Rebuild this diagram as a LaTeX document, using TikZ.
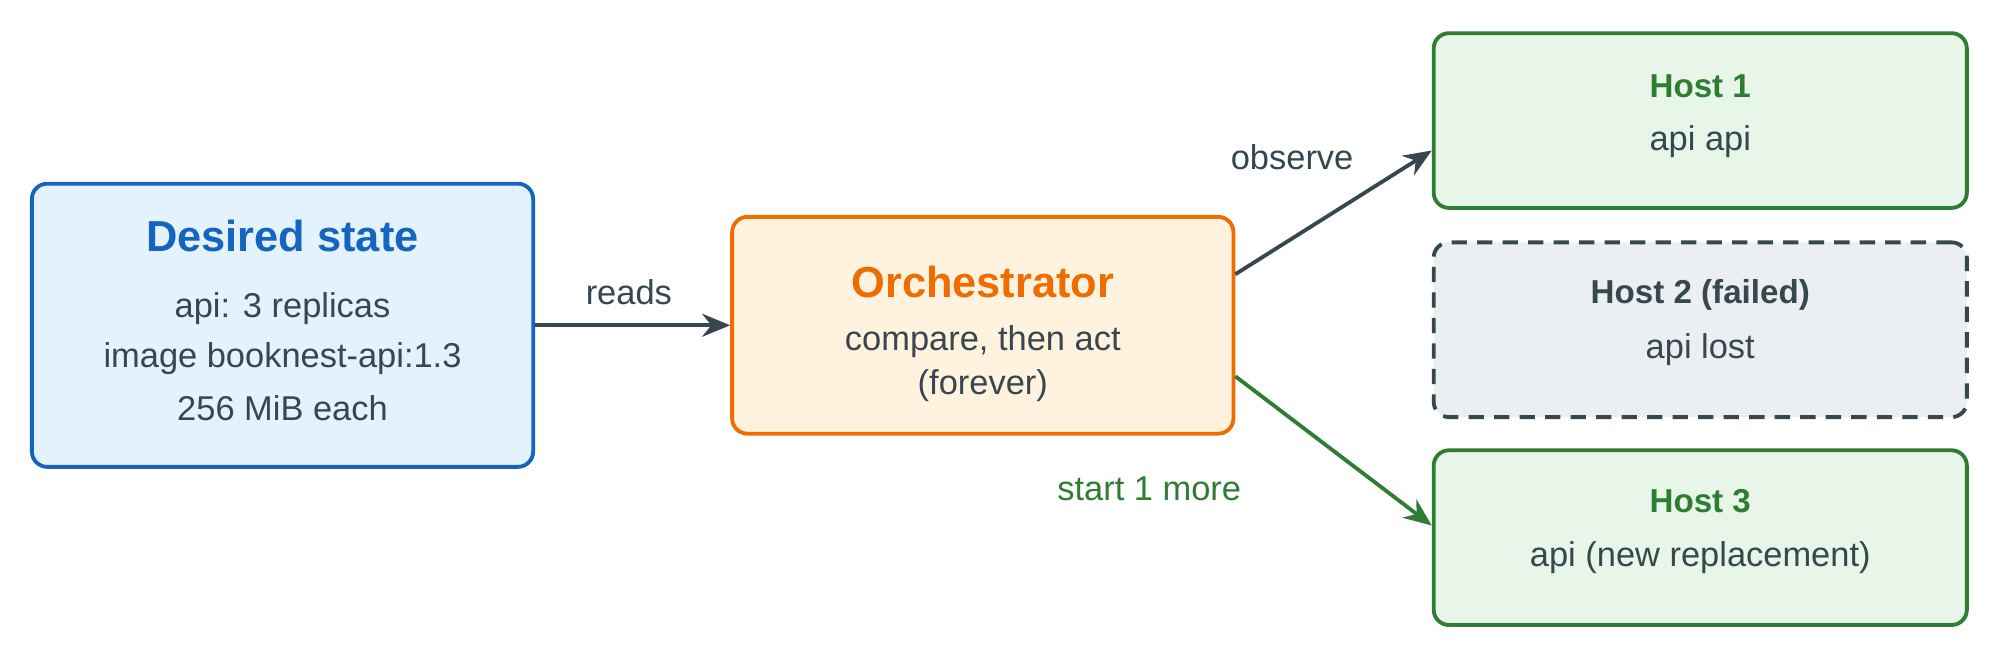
\documentclass[tikz,border=0pt]{standalone}
\usepackage{fontspec}
\setmainfont{Liberation Sans}
\usetikzlibrary{arrows.meta}
\definecolor{ink}{HTML}{37474F}
\definecolor{bluedk}{HTML}{1565C0}
\definecolor{bluelt}{HTML}{E3F2FD}
\definecolor{orgdk}{HTML}{EF6C00}
\definecolor{orglt}{HTML}{FFF3E0}
\definecolor{grndk}{HTML}{2E7D32}
\definecolor{grnlt}{HTML}{E8F5E9}
\definecolor{grylt}{HTML}{ECEFF1}
\begin{document}
\begin{tikzpicture}[x=1pt,y=-1pt]
\tikzstyle{box}=[rectangle,rounded corners=12pt,line width=3pt,inner sep=0pt]
\tikzstyle{desired}=[box,draw=bluedk,fill=bluelt,minimum width=393pt,minimum height=222pt]
\tikzstyle{orch}=[box,draw=orgdk,fill=orglt,minimum width=393pt,minimum height=170pt]
\tikzstyle{host}=[box,draw=grndk,fill=grnlt,minimum width=418pt,minimum height=137pt]
\tikzstyle{failed}=[box,draw=ink,fill=grylt,dash pattern=on 12pt off 8pt,minimum width=418pt,minimum height=137pt]
\tikzstyle{txt}=[text=ink,font=\fontsize{27}{31}\selectfont]
\tikzstyle{head}=[font=\bfseries\fontsize{34}{38}\selectfont]
\tikzstyle{hosthead}=[font=\bfseries\fontsize{26}{30}\selectfont]
\tikzstyle{flow}=[line width=3pt,-{Stealth[length=22pt,width=18pt]}]
\useasboundingbox (0,0) rectangle (1568,523);
\node[desired] (desired) at (221.5,255) {};
\node[orch] (orch) at (770.5,255) {};
\node[host] (host1) at (1333,94.5) {};
\node[failed] (host2) at (1333,258.5) {};
\node[host] (host3) at (1333,421.5) {};
% texts
\node[head,text=bluedk] (t1) at (221.5,185) {Desired state};
\node[txt] (d1) at (221.5,242) {api: 3 replicas};
\node[txt] (d2) at (221.5,281) {image booknest-api:1.3};
\node[txt] (d3) at (221.5,320) {256 MiB each};
\node[head,text=orgdk] (t2) at (770.5,221) {Orchestrator};
\node[txt] (o1) at (770.5,268) {compare, then act};
\node[txt] (o2) at (770.5,302) {(forever)};
\node[hosthead,text=grndk] (h1) at (1333,68) {Host 1};
\node[txt] (h1a) at (1333,111) {api api};
\node[hosthead,text=ink] (h2) at (1333,231) {Host 2 (failed)};
\node[txt] (h2a) at (1333,274) {api lost};
\node[hosthead,text=grndk] (h3) at (1333,393) {Host 3};
\node[txt] (h3a) at (1333,437) {api (new replacement)};
% connectors
\draw[flow,ink] (desired.east) -- (orch.west);
\node[txt] (reads) at (493,229) {reads};
\draw[flow,ink] (orch.east |- 0,215) -- (host1.west |- 0,118);
\node[txt] (observe) at (1013,123) {observe};
\draw[flow,grndk] (orch.east |- 0,295) -- (host3.west |- 0,412);
\node[txt,text=grndk] (start) at (901,383) {start 1 more};
\end{tikzpicture}
\end{document}
